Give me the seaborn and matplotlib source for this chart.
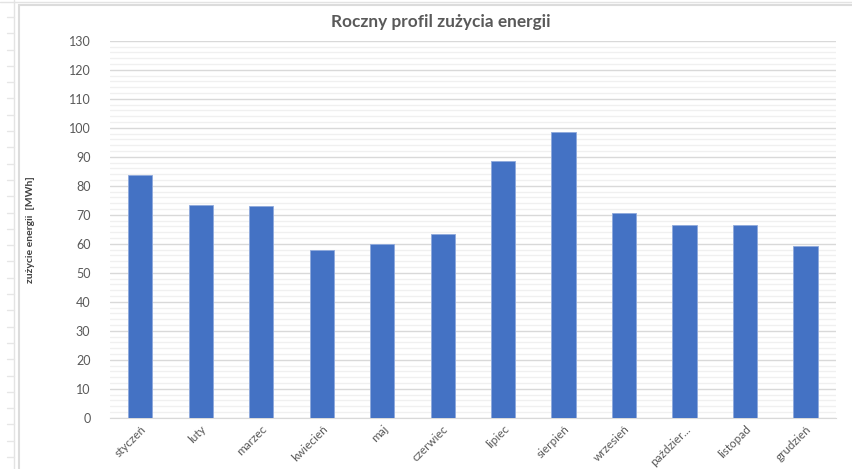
import matplotlib as mpl
import numpy as np
import pandas as pd
import seaborn as sns
from matplotlib import pyplot as plt
from matplotlib.lines import Line2D
from matplotlib.patches import Rectangle

MONTHS = ['styczeń', 'luty', 'marzec', 'kwiecień', 'maj', 'czerwiec',
          'lipiec', 'sierpień', 'wrzesień', 'paździer...', 'listopad', 'grudzień']
USAGE = [83.9, 73.4, 73.1, 57.9, 59.8, 63.3, 88.5, 98.7, 70.6, 66.5, 66.5, 59.3]

BAR_COLOR = '#4472C4'
TEXT_COLOR = '#595959'

sns.set_style('white')
plt.rcParams['font.family'] = ['Lato', 'DejaVu Sans']

df = pd.DataFrame({'MONTH': MONTHS, 'USAGE': USAGE})

fig = plt.figure(figsize=(8.52, 4.69), dpi=100)
ax = fig.add_axes([0.129, 0.109, 0.852, 0.804])

# excel sheet background: chart frame and row lines on the left
fig.patches.append(Rectangle((19 / 852, -0.01), 1.0, 1 - 5 / 469 + 0.01, transform=fig.transFigure,
                             facecolor='none', edgecolor='#dcdcdc', lw=1.5, zorder=0))
fig.lines.append(Line2D([14 / 852, 14 / 852], [0, 1], transform=fig.transFigure, color='#e3e3e3', lw=1))
fig.lines.append(Line2D([0, 1], [1 - 2 / 469, 1 - 2 / 469], transform=fig.transFigure, color='#e3e3e3', lw=1))
for yy in np.arange(17, 469, 16.3):
    fig.lines.append(Line2D([7 / 852, 14 / 852], [1 - yy / 469, 1 - yy / 469],
                            transform=fig.transFigure, color='#e6e6e6', lw=1))

sns.barplot(data=df, x='MONTH', y='USAGE', color=BAR_COLOR, width=0.4,
            saturation=1, edgecolor='#8fa9dc', linewidth=0.6, ax=ax, zorder=3)

ax.set_xlim(-0.5, len(MONTHS) - 0.5)
ax.set_ylim(0, 130)
ax.set_yticks(np.arange(0, 131, 10))
ax.set_yticks(np.arange(0, 131, 2), minor=True)
ax.grid(True, which='major', axis='y', color='#d9d9d9', lw=1, zorder=0)
ax.grid(True, which='minor', axis='y', color='#f0f0f0', lw=1, zorder=0)
ax.set_axisbelow(True)

for s in ['top', 'right', 'left']:
    ax.spines[s].set_visible(False)
ax.spines['bottom'].set_color('#d9d9d9')
ax.tick_params(axis='both', which='both', length=0, colors=TEXT_COLOR, labelsize=9)
ax.tick_params(axis='y', pad=14)

ax.set_xticks(range(len(MONTHS)))
ax.set_xticklabels(MONTHS, rotation=45, ha='right', rotation_mode='anchor')
ax.tick_params(axis='x', pad=4, labelsize=8.5)

ax.set_xlabel(None)
ax.set_ylabel('zużycie energii  [MWh]', fontsize=7.5, fontweight='bold', color='#404040', labelpad=24)

fig.text(441 / 852, 1 - 22 / 469, 'Roczny profil zużycia energii', ha='center', va='center',
         fontsize=12.4, fontweight='bold', color=TEXT_COLOR)

plt.savefig('out.png', dpi=100)
